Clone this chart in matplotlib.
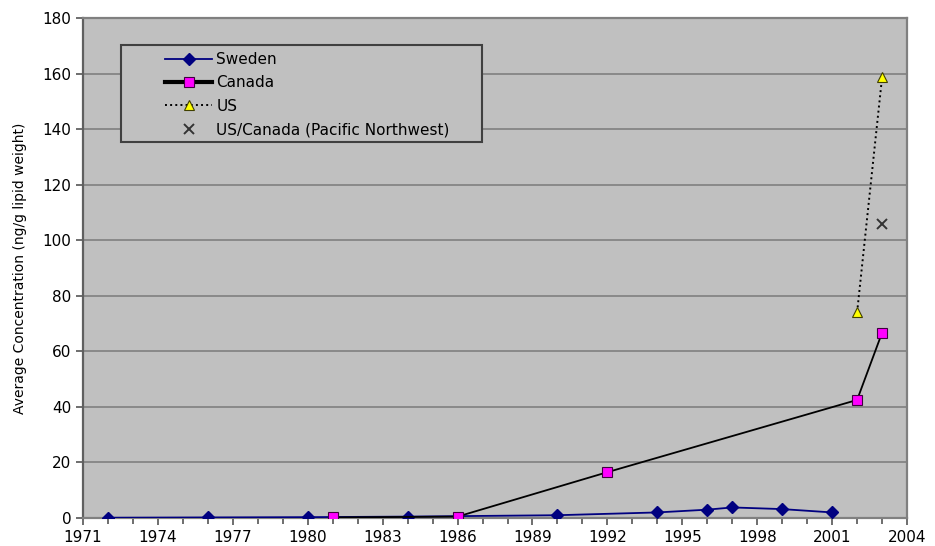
import matplotlib
matplotlib.use("Agg")
import matplotlib.pyplot as plt
from matplotlib.ticker import MultipleLocator
from matplotlib.lines import Line2D
from matplotlib.patches import Rectangle

plt.rcParams['font.family'] = ['DejaVu Sans']

sweden_years = [1972, 1976, 1980, 1984, 1990, 1994, 1996, 1997, 1999, 2001]
sweden_vals = [0.1, 0.2, 0.3, 0.5, 1.0, 2.0, 3.0, 3.8, 3.2, 2.0]
canada_years = [1981, 1986, 1992, 2002, 2003]
canada_vals = [0.2, 0.5, 16.5, 42.5, 66.7]
us_years = [2002, 2003]
us_vals = [74, 158.7]
pnw_years = [2003]
pnw_vals = [105.8]

labels = ['Sweden', 'Canada', 'US', 'US/Canada (Pacific Northwest)']
xticks = list(range(1971, 2005, 3))
yticks = list(range(0, 181, 20))

fig = plt.figure(figsize=(9.35, 5.46), dpi=100)
ax = fig.add_axes([0.0888, 0.0513, 0.8813, 0.9157])
ax.set_facecolor('#C0C0C0')

sw_style = dict(color='#000080', marker='D', ms=6.5, mfc='#000080', mec='#000080')
ca_style = dict(color='black', marker='s', ms=7.5, mfc='#FF00FF', mec='#400040', mew=0.8)
us_style = dict(color='black', ls=':', marker='^', ms=7.5, mfc='#FFFF00', mec='#404000', mew=0.8)
pnw_style = dict(ls='none', marker='x', ms=7, mew=1.4, color='#333333')

ax.plot(sweden_years, sweden_vals, lw=1.3, zorder=3, **sw_style)
ax.plot(canada_years, canada_vals, lw=1.3, zorder=4, **ca_style)
ax.plot(us_years, us_vals, lw=1.4, zorder=4, **us_style)
ax.plot(pnw_years, pnw_vals, zorder=4, **pnw_style)

ax.set_xlim(1971, 2004)
ax.set_ylim(0, 180)
ax.set_xticks(xticks)
ax.xaxis.set_minor_locator(MultipleLocator(1))
ax.set_yticks(yticks)
ax.tick_params(axis='both', which='major', direction='out', length=5,
               labelsize=11, color='#555555', width=1.2)
ax.tick_params(axis='x', which='minor', direction='out', length=4,
               color='#555555', width=1.2)
ax.yaxis.grid(True, color='#808080', lw=1.2)
ax.set_axisbelow(True)
for s in ax.spines.values():
    s.set_color('#808080')
    s.set_linewidth(1.6)
ax.spines['left'].set_color('#606060')

ax.set_ylabel('Average Concentration (ng/g lipid weight)', fontsize=10, labelpad=11)

# legend frame
ax.add_patch(Rectangle((0.0461, 0.752), 0.438, 0.194, transform=ax.transAxes,
                       facecolor='#C0C0C0', edgecolor='#404040', lw=1.5, zorder=5))

handles = [
    Line2D([], [], lw=1.3, **sw_style),
    Line2D([], [], lw=3, **ca_style),
    Line2D([], [], lw=1.4, **us_style),
    Line2D([], [], **pnw_style),
]
leg = ax.legend(handles, labels, loc='upper left', bbox_to_anchor=(0.0995, 0.932),
                fontsize=11, frameon=False, borderpad=0, handlelength=3.1,
                handletextpad=0.25, labelspacing=0.55, borderaxespad=0)
leg.set_zorder(6)

fig.savefig('out.png', dpi=100)
